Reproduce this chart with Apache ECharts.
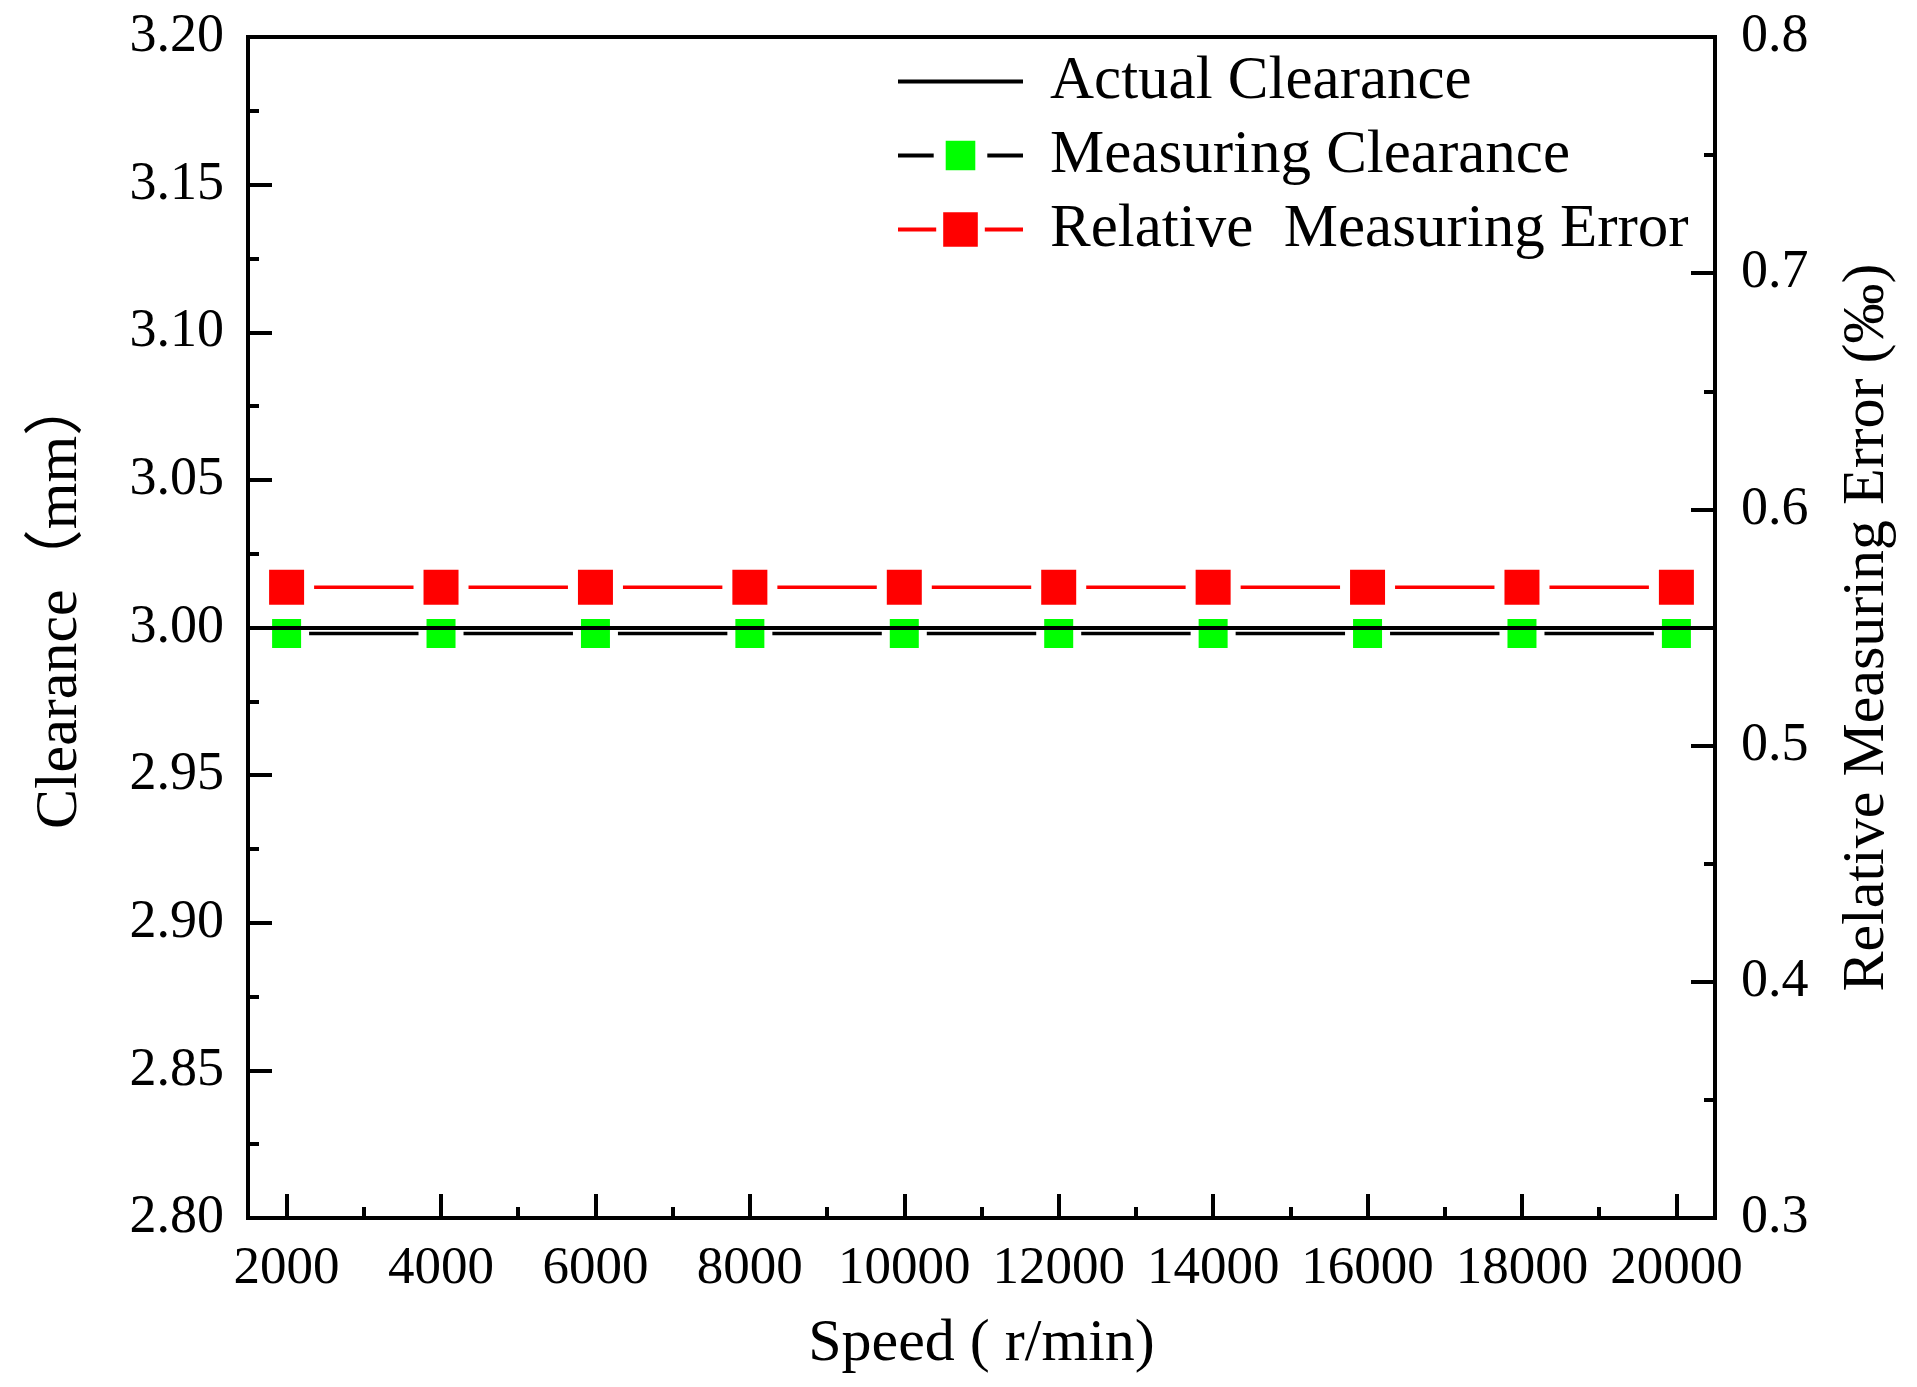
<!DOCTYPE html>
<html>
<head>
<meta charset="utf-8">
<script src="https://cdn.jsdelivr.net/npm/echarts@6/dist/echarts.min.js"></script>
<style>html,body{margin:0;padding:0;background:#fff;}#chart{width:1917px;height:1387px;}</style>
</head>
<body>
<div id="chart"></div>
<script>
// ---- data ----
const speeds = [2000, 4000, 6000, 8000, 10000, 12000, 14000, 16000, 18000, 20000];
const actualClearance = 3.00;
const measuringClearance = [2.998, 2.998, 2.998, 2.998, 2.998, 2.998, 2.998, 2.998, 2.998, 2.998];
const relativeError = [0.567, 0.567, 0.567, 0.567, 0.567, 0.567, 0.567, 0.567, 0.567, 0.567];
const xMajorTicks = [2000, 4000, 6000, 8000, 10000, 12000, 14000, 16000, 18000, 20000];
const xMinorTicks = [3000, 5000, 7000, 9000, 11000, 13000, 15000, 17000, 19000];
const seriesNames = ['Actual Clearance', 'Measuring Clearance', 'Relative  Measuring Error'];

const FONT = "'Liberation Serif', 'Times New Roman', 'Noto Sans CJK SC', serif";

const chart = echarts.init(document.getElementById('chart'), null, {renderer: 'canvas'});

const tickCommon = {inside: true, length: 24, lineStyle: {color: '#000', width: 4}};
const minorCommon = {show: true, splitNumber: 2, length: 11, lineStyle: {color: '#000', width: 4}};

const option = {
  animation: false,
  backgroundColor: '#fff',
  grid: {left: 248, right: 202, top: 37, bottom: 169, show: true, borderColor: '#000', borderWidth: 4, backgroundColor: 'transparent'},
  legend: {
    orient: 'vertical', left: 896, top: 51, padding: 0,
    itemWidth: 125, itemHeight: 52, itemGap: 13,
    textStyle: {fontFamily: FONT, fontSize: 61, color: '#000', padding: [0, 0, 0, 22]},
    data: [
      {name: seriesNames[0], itemStyle: {opacity: 0, borderWidth: 0}, lineStyle: {width: 4}},
      {name: seriesNames[1], itemStyle: {borderWidth: 12, borderColor: '#fff'}, lineStyle: {width: 4}},
      {name: seriesNames[2], itemStyle: {borderWidth: 7, borderColor: '#fff'}, lineStyle: {width: 4}}
    ]
  },
  xAxis: [
    {
      type: 'value', min: 1500, max: 20500, position: 'bottom',
      name: 'Speed ( r/min)', nameLocation: 'middle', nameGap: 96,
      nameTextStyle: {fontFamily: FONT, fontSize: 60, color: '#000'},
      axisLine: {show: true, lineStyle: {color: '#000', width: 4}},
      axisTick: Object.assign({customValues: xMajorTicks}, tickCommon),
      axisLabel: {customValues: xMajorTicks, formatter: v => String(v), fontFamily: FONT, fontSize: 53, color: '#000', margin: 25},
      splitLine: {show: false}
    },
    {
      type: 'value', min: 1500, max: 20500, position: 'bottom',
      axisLine: {show: false},
      axisTick: {customValues: xMinorTicks, inside: true, length: 11, lineStyle: {color: '#000', width: 4}},
      axisLabel: {show: false, customValues: xMinorTicks},
      splitLine: {show: false}
    }
  ],
  yAxis: [
    {
      type: 'value', min: 2.8, max: 3.2, interval: 0.05, position: 'left',
      name: 'Clearance（mm）', nameLocation: 'middle', nameGap: 158,
      nameTextStyle: {fontFamily: FONT, fontSize: 60, color: '#000', padding: [0, 0, 0, 50]},
      axisLine: {show: true, lineStyle: {color: '#000', width: 4}},
      axisTick: tickCommon,
      minorTick: minorCommon,
      axisLabel: {formatter: v => v.toFixed(2), fontFamily: FONT, fontSize: 54, color: '#000', margin: 24},
      splitLine: {show: false}
    },
    {
      type: 'value', min: 0.3, max: 0.8, interval: 0.1, position: 'right',
      name: 'Relative Measuring Error (‰)', nameLocation: 'middle', nameGap: 122,
      nameTextStyle: {fontFamily: FONT, fontSize: 60, color: '#000'},
      axisLine: {show: true, lineStyle: {color: '#000', width: 4}},
      axisTick: tickCommon,
      minorTick: minorCommon,
      axisLabel: {formatter: v => v.toFixed(1), fontFamily: FONT, fontSize: 54, color: '#000', margin: 26},
      splitLine: {show: false}
    }
  ],
  series: [
    {
      name: seriesNames[0], type: 'line', xAxisIndex: 0, yAxisIndex: 0, data: [],
      symbol: 'none', color: '#000', lineStyle: {color: '#000', width: 4}, z: 10,
      markLine: {
        silent: true, symbol: ['none', 'none'], label: {show: false}, z: 10,
        lineStyle: {color: '#000', width: 4, type: 'solid'},
        emphasis: {disabled: true},
        data: [{yAxis: actualClearance}]
      }
    },
    {
      name: seriesNames[1], type: 'line', xAxisIndex: 0, yAxisIndex: 0,
      data: speeds.map((s, i) => [s, measuringClearance[i]]),
      symbol: 'rect', symbolSize: 37, color: '#00ff00',
      itemStyle: {color: '#00ff00', borderColor: '#fff', borderWidth: 8},
      lineStyle: {color: '#000', width: 3.5}, z: 4
    },
    {
      name: seriesNames[2], type: 'line', xAxisIndex: 0, yAxisIndex: 1,
      data: speeds.map((s, i) => [s, relativeError[i]]),
      symbol: 'rect', symbolSize: 45, color: '#ff0000',
      itemStyle: {color: '#ff0000', borderColor: '#fff', borderWidth: 10},
      lineStyle: {color: '#ff0000', width: 3.5}, z: 3
    }
  ]
};
chart.setOption(option);
</script>
</body>
</html>
